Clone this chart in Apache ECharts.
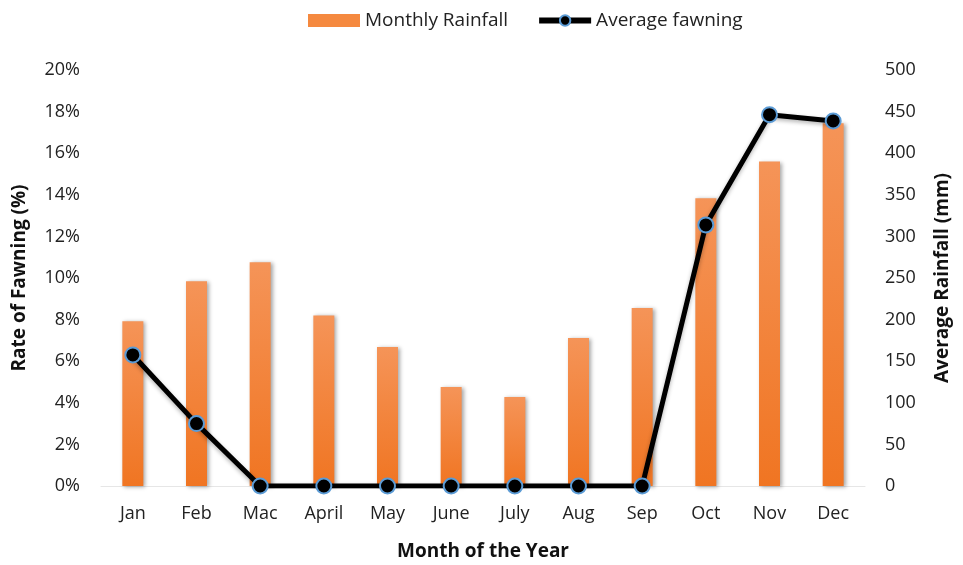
<!DOCTYPE html>
<html><head><meta charset="utf-8">
<script src="https://cdn.jsdelivr.net/npm/echarts@6/dist/echarts.min.js"></script>
<style>html,body{margin:0;padding:0;background:#fff}#c{width:963px;height:565px}</style>
</head><body><div id="c"></div>
<script>
const months = ['Jan','Feb','Mac','April','May','June','July','Aug','Sep','Oct','Nov','Dec'];
const rainfall = [198, 246, 269, 205, 167, 119, 107, 178, 214, 346, 390, 436];
const fawning = [6.3, 3.0, 0, 0, 0, 0, 0, 0, 0, 12.55, 17.85, 17.55];
const leftTicks = [0, 20, 2];
const rightTicks = [0, 500, 50];

const FONT = 'Open Sans';
const chart = echarts.init(document.getElementById('c'));
chart.setOption({
  animation: false,
  textStyle: {fontFamily: FONT},
  legend: {
    top: 6, left: 303,
    itemGap: 28,
    textStyle: {fontSize: 19, color: '#222', fontFamily: FONT},
    data: [
      {name: 'Monthly Rainfall', icon: 'rect', itemStyle: {color: '#F5893F'}},
      {name: 'Average fawning', lineStyle: {width: 6, color: '#000'}}
    ],
    itemWidth: 52, itemHeight: 13
  },
  grid: {left: 101, right: 98, top: 70, bottom: 79, outerBoundsMode: 'none', containLabel: false},
  xAxis: {
    type: 'category', data: months,
    axisLine: {lineStyle: {color: '#e6e6e6', width: 1}},
    axisTick: {show: false},
    axisLabel: {fontSize: 18, color: '#222', margin: 19},
    name: 'Month of the Year', nameLocation: 'middle', nameGap: 56,
    nameTextStyle: {fontSize: 19, fontWeight: 'bold', color: '#111'}
  },
  yAxis: [
    {
      type: 'value', min: leftTicks[0], max: leftTicks[1], interval: leftTicks[2],
      axisLabel: {formatter: '{value}%', fontSize: 18, color: '#222', margin: 21},
      splitLine: {show: false}, axisLine: {show: false}, axisTick: {show: false},
      name: 'Rate of Fawning (%)', nameLocation: 'middle', nameGap: 72, nameRotate: 90,
      nameTextStyle: {fontSize: 19, fontWeight: 'bold', color: '#111'}
    },
    {
      type: 'value', min: rightTicks[0], max: rightTicks[1], interval: rightTicks[2],
      position: 'right',
      axisLabel: {fontSize: 18, color: '#222', margin: 20},
      splitLine: {show: false}, axisLine: {show: false}, axisTick: {show: false},
      name: 'Average Rainfall (mm)', nameLocation: 'middle', nameGap: 68, nameRotate: 90,
      nameTextStyle: {fontSize: 19, fontWeight: 'bold', color: '#111'}
    }
  ],
  series: [
    {
      name: 'Monthly Rainfall', type: 'bar', yAxisIndex: 1, data: rainfall,
      barWidth: 21,
      itemStyle: {
        color: new echarts.graphic.LinearGradient(0, 0, 0, 1, [
          {offset: 0, color: '#F59458'}, {offset: 1, color: '#F07522'}
        ]),
        shadowBlur: 4, shadowColor: 'rgba(0,0,0,0.35)', shadowOffsetX: 2, shadowOffsetY: 1
      }
    },
    {
      name: 'Average fawning', type: 'line', yAxisIndex: 0, data: fawning,
      symbol: 'circle', symbolSize: 15,
      lineStyle: {color: '#000', width: 5, shadowBlur: 4, shadowColor: 'rgba(0,0,0,0.3)', shadowOffsetY: 2},
      itemStyle: {color: '#000', borderColor: '#5B9BD5', borderWidth: 2}
    }
  ]
});
</script></body></html>
